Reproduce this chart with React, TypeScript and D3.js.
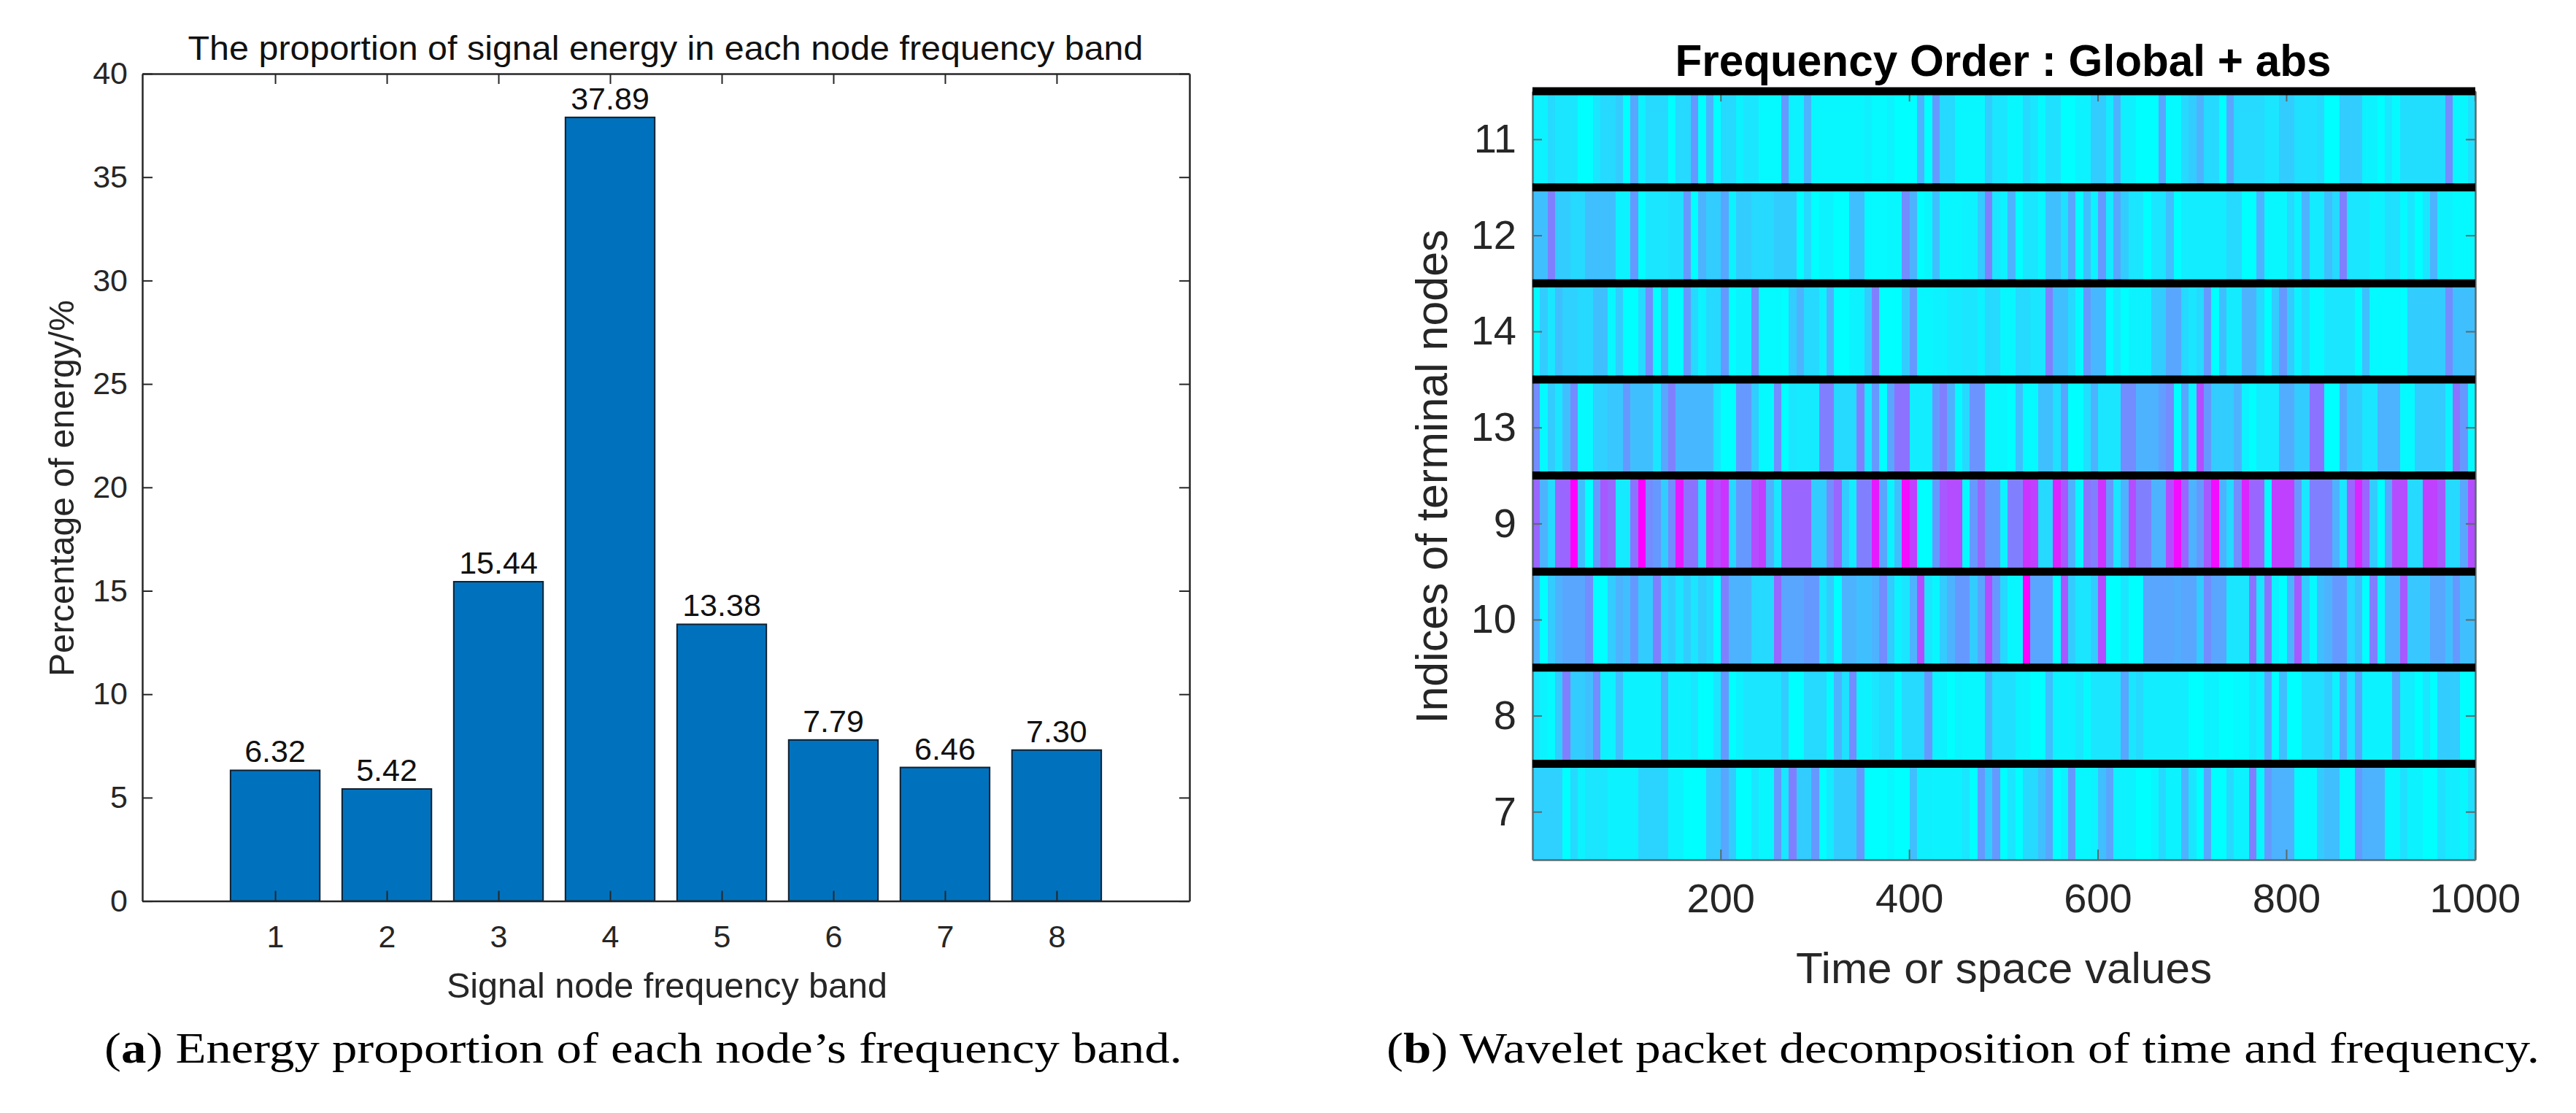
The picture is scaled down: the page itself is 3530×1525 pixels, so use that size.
// App.tsx - energy per frequency band (a) and wavelet packet time/frequency plot (b)
import { useEffect, useRef } from 'react';
import * as d3 from 'd3';

const bands = [1, 2, 3, 4, 5, 6, 7, 8];
const energy = [6.32, 5.42, 15.44, 37.89, 13.38, 7.79, 6.46, 7.3];
const energyTicks = [0, 5, 10, 15, 20, 25, 30, 35, 40];

const nodeLabels = ['11', '12', '14', '13', '9', '10', '8', '7'];
const timeTicks = [200, 400, 600, 800, 1000];
const samplesPerCell = 8;

// colour level of every cell, 0 = cyan, 100 = magenta
const node11 = [
  5, 5, 15, 10, 10, 10, 0, 0, 10, 15, 15, 20, 0, 35, 5, 15, 15, 15, 0, 15, 15, 40, 0, 30, 0,
  15, 15, 5, 10, 10, 2, 2, 2, 40, 5, 5, 30, 3, 3, 3, 3, 3, 3, 3, 6, 2, 2, 5, 0, 0,
  0, 30, 0, 40, 15, 15, 3, 3, 3, 3, 20, 10, 10, 3, 3, 15, 10, 2, 12, 12, 0, 0, 5, 5, 20,
  20, 8, 30, 6, 6, 0, 0, 0, 35, 2, 2, 15, 20, 30, 15, 15, 0, 35, 15, 15, 15, 15, 10, 10, 20,
  20, 12, 12, 12, 15, 0, 0, 20, 20, 20, 5, 5, 0, 10, 2, 13, 13, 13, 13, 13, 13, 45, 3, 3, 12,
];
const node12 = [
  25, 25, 50, 20, 20, 15, 15, 25, 25, 25, 25, 5, 5, 40, 0, 10, 10, 10, 12, 12, 40, 0, 30, 20, 20,
  35, 5, 20, 20, 15, 15, 15, 20, 20, 20, 0, 15, 0, 5, 5, 0, 0, 25, 25, 2, 2, 2, 3, 3, 45,
  30, 0, 3, 25, 3, 3, 3, 5, 5, 20, 50, 10, 5, 30, 0, 10, 10, 3, 25, 25, 12, 35, 0, 25, 5,
  40, 8, 35, 20, 10, 10, 0, 10, 10, 25, 0, 7, 7, 7, 7, 7, 7, 15, 15, 0, 0, 30, 3, 3, 3,
  15, 5, 30, 8, 8, 25, 15, 50, 10, 10, 10, 5, 5, 12, 12, 2, 10, 0, 10, 30, 5, 5, 2, 2, 2,
];
const node14 = [
  2, 20, 10, 25, 18, 18, 15, 15, 25, 25, 3, 20, 0, 0, 15, 45, 0, 30, 0, 0, 40, 15, 5, 15, 15,
  40, 0, 5, 5, 45, 2, 2, 2, 0, 20, 30, 15, 15, 5, 30, 0, 0, 5, 5, 20, 50, 0, 0, 0, 20,
  40, 3, 3, 5, 5, 8, 8, 10, 10, 5, 15, 15, 3, 3, 15, 15, 10, 10, 50, 25, 25, 15, 2, 40, 28,
  28, 0, 10, 0, 5, 5, 5, 20, 20, 35, 35, 15, 10, 15, 40, 0, 25, 8, 8, 30, 30, 15, 0, 20, 40,
  20, 5, 15, 2, 2, 10, 10, 10, 10, 0, 25, 2, 2, 2, 2, 0, 20, 20, 20, 20, 20, 45, 25, 25, 25,
];
const node13 = [
  45, 2, 20, 10, 25, 45, 2, 2, 18, 18, 22, 22, 40, 25, 25, 25, 10, 35, 50, 28, 28, 28, 28, 28, 10,
  0, 0, 40, 40, 20, 2, 2, 45, 0, 10, 8, 8, 8, 50, 50, 15, 15, 15, 50, 10, 40, 0, 35, 55, 55,
  7, 7, 7, 40, 50, 30, 2, 15, 42, 42, 3, 3, 3, 0, 25, 2, 2, 25, 25, 12, 35, 0, 0, 12, 30,
  10, 10, 10, 45, 45, 30, 30, 30, 38, 45, 0, 35, 5, 70, 40, 20, 20, 20, 30, 5, 0, 8, 8, 8, 32,
  32, 20, 20, 55, 55, 0, 0, 35, 20, 20, 10, 10, 30, 30, 30, 2, 2, 20, 20, 20, 20, 5, 55, 40, 2,
];
const node9 = [
  60, 30, 15, 60, 60, 100, 25, 0, 40, 65, 60, 8, 8, 55, 100, 45, 40, 20, 45, 90, 55, 55, 15, 80, 70,
  80, 15, 40, 40, 70, 75, 30, 10, 60, 60, 60, 60, 20, 20, 45, 60, 20, 8, 50, 50, 90, 35, 5, 25, 95,
  75, 0, 0, 40, 65, 70, 70, 2, 40, 60, 40, 40, 5, 50, 50, 80, 75, 15, 15, 85, 65, 30, 3, 55, 50,
  80, 40, 10, 30, 70, 50, 50, 30, 30, 70, 95, 60, 30, 40, 65, 95, 30, 15, 45, 85, 60, 60, 2, 75, 75,
  75, 40, 10, 50, 50, 50, 30, 10, 60, 85, 60, 20, 0, 35, 70, 70, 15, 15, 75, 75, 65, 15, 15, 35, 70,
];
const node10 = [
  30, 0, 20, 30, 35, 35, 35, 45, 0, 0, 20, 30, 25, 40, 20, 20, 50, 15, 20, 10, 20, 10, 20, 15, 0,
  50, 30, 30, 30, 15, 15, 15, 60, 35, 35, 35, 40, 40, 10, 20, 0, 30, 30, 25, 25, 30, 45, 20, 5, 10,
  30, 70, 10, 3, 20, 30, 40, 40, 20, 35, 70, 40, 15, 3, 3, 100, 35, 35, 35, 0, 65, 20, 10, 10, 20,
  70, 0, 0, 10, 0, 0, 35, 35, 35, 35, 32, 35, 35, 20, 45, 35, 35, 10, 10, 10, 55, 10, 55, 5, 0,
  30, 65, 20, 2, 25, 30, 40, 40, 15, 25, 0, 50, 2, 30, 30, 65, 22, 22, 22, 35, 35, 25, 40, 25, 25,
];
const node8 = [
  10, 5, 2, 20, 50, 20, 20, 25, 45, 5, 5, 25, 5, 5, 5, 5, 5, 30, 5, 5, 5, 10, 0, 0, 10,
  40, 0, 5, 10, 10, 10, 10, 10, 20, 0, 0, 15, 15, 15, 2, 30, 12, 45, 5, 5, 10, 15, 15, 2, 15,
  15, 15, 40, 5, 5, 0, 5, 3, 3, 3, 30, 12, 12, 12, 5, 5, 0, 0, 25, 5, 5, 5, 10, 2, 10,
  10, 10, 10, 35, 10, 15, 7, 7, 7, 7, 7, 7, 0, 0, 5, 5, 0, 0, 2, 2, 10, 5, 35, 0, 25,
  0, 0, 12, 12, 12, 20, 5, 35, 10, 35, 5, 5, 5, 5, 35, 7, 7, 0, 10, 0, 20, 20, 20, 0, 0,
];
const node7 = [
  18, 18, 18, 18, 0, 15, 5, 10, 10, 10, 5, 5, 5, 5, 17, 17, 17, 17, 5, 5, 0, 0, 0, 20, 20,
  35, 20, 0, 0, 10, 3, 3, 40, 10, 50, 20, 20, 40, 0, 8, 20, 20, 20, 40, 0, 0, 0, 3, 0, 0,
  25, 6, 6, 5, 5, 5, 5, 10, 0, 40, 20, 40, 0, 10, 0, 15, 15, 25, 35, 0, 5, 40, 3, 3, 5,
  25, 35, 5, 5, 5, 0, 0, 3, 15, 5, 5, 30, 10, 0, 35, 0, 0, 15, 5, 5, 50, 3, 40, 30, 30,
  30, 2, 2, 2, 20, 25, 25, 2, 2, 40, 30, 30, 30, 3, 3, 12, 5, 5, 0, 0, 12, 7, 7, 3, 12,
];
const nodeRows = [node11, node12, node14, node13, node9, node10, node8, node7];

const sans = '"Liberation Sans", Arial, sans-serif';
const serif = '"Liberation Serif", serif';
const axisInk = '#262626';

// box with inward ticks on all four sides, labels only on left and bottom
function drawBox(g: any, x: any, y: any, xTicks: number[], yTicks: any[], xFmt: any, yFmt: any, opts: any) {
  const [x0, x1] = x.range();
  const bottom = Math.max(...y.range());
  const top = Math.min(...y.range());
  const ax = (a: any, dx: number, dy: number, labels: boolean, pad: number, size: number) => {
    const s = g.append('g').attr('transform', `translate(${dx},${dy})`)
      .call(a.tickSizeInner(-size).tickSizeOuter(0).tickPadding(pad));
    s.select('.domain').attr('stroke', opts.stroke).attr('stroke-width', opts.width);
    s.selectAll('.tick line').attr('stroke', opts.stroke).attr('stroke-width', opts.tickWidth);
    s.selectAll('.tick text')
      .attr('fill', axisInk)
      .attr('font-family', sans)
      .attr('font-size', opts.font)
      .style('display', labels ? null : 'none');
    return s;
  };
  ax(d3.axisLeft(y).tickValues(yTicks).tickFormat(yFmt), x0, 0, true, opts.padY, opts.tickY);
  ax(d3.axisRight(y).tickValues(yTicks).tickFormat(yFmt), x1, 0, false, 0, opts.tickY);
  ax(d3.axisBottom(x).tickValues(xTicks).tickFormat(xFmt), 0, bottom, true, opts.padX, opts.tickX);
  ax(d3.axisTop(x).tickValues(xTicks).tickFormat(xFmt), 0, top, false, 0, opts.tickX);
}

function label(g: any, text: string, x: number, y: number, size: number, width: number, rotate = false) {
  return g.append('text')
    .attr('transform', rotate ? `translate(${x},${y}) rotate(-90)` : `translate(${x},${y})`)
    .attr('text-anchor', 'middle')
    .attr('dominant-baseline', 'central')
    .attr('font-family', sans)
    .attr('font-size', size)
    .attr('fill', axisInk)
    .attr('textLength', width)
    .attr('lengthAdjust', 'spacingAndGlyphs')
    .text(text);
}

function caption(g: any, tag: string, rest: string, x: number, y: number, width: number) {
  const t = g.append('text')
    .attr('x', x)
    .attr('y', y)
    .attr('font-family', serif)
    .attr('font-size', 60)
    .attr('fill', '#000')
    .attr('textLength', width)
    .attr('lengthAdjust', 'spacingAndGlyphs');
  t.append('tspan').text('(');
  t.append('tspan').attr('font-weight', 'bold').text(tag);
  t.append('tspan').text(rest);
}

export default function App() {
  const svgRef = useRef<SVGSVGElement>(null);

  useEffect(() => {
    if (!svgRef.current) return;
    const svg = d3.select(svgRef.current);
    svg.selectAll('*').remove();

    // (a) bars
    const a = svg.append('g');
    const xA = d3.scaleLinear().domain([-0.19, 9.19]).range([195, 1630]);
    const yA = d3.scaleLinear().domain([0, 40]).range([1234.6, 101]);
    const barW = xA(0.8) - xA(0);

    a.selectAll('rect.bar')
      .data(energy)
      .join('rect')
      .attr('class', 'bar')
      .attr('x', (_d, i) => xA(bands[i]) - barW / 2)
      .attr('y', d => yA(d))
      .attr('width', barW)
      .attr('height', d => yA(0) - yA(d))
      .attr('fill', '#0072BD')
      .attr('stroke', '#102030')
      .attr('stroke-width', 2);

    a.selectAll('text.value')
      .data(energy)
      .join('text')
      .attr('class', 'value')
      .attr('x', (_d, i) => xA(bands[i]))
      .attr('y', d => yA(d) - 11)
      .attr('text-anchor', 'middle')
      .attr('font-family', sans)
      .attr('font-size', 43)
      .attr('fill', '#111')
      .text(d => d.toFixed(2));

    drawBox(a, xA, yA, bands, energyTicks, d3.format('d'), d3.format('d'), {
      stroke: axisInk, width: 2.5, tickWidth: 2, font: 43, padY: 20, padX: 33, tickX: 14, tickY: 14,
    });

    label(a, 'The proportion of signal energy in each node frequency band', 912, 66, 46, 1309).attr('fill', '#111');
    label(a, 'Signal node frequency band', 914, 1350, 48, 604);
    label(a, 'Percentage of energy/%', 84, 669, 48, 516, true);
    caption(a, 'a', ') Energy proportion of each node\u2019s frequency band.', 143, 1456, 1477);

    // (b) time/frequency stripes
    const b = svg.append('g');
    const xB = d3.scaleLinear().domain([0.5, 1000.5]).range([2100, 3392]);
    const yB = d3.scaleLinear().domain([-0.5, 7.5]).range([125, 1178]);
    const cool = d3.scaleLinear<string>().domain([0, 100]).range(['#00ffff', '#ff00ff']);

    nodeRows.forEach((row, r) => {
      b.append('g')
        .attr('shape-rendering', 'crispEdges')
        .selectAll('rect')
        .data(row)
        .join('rect')
        .attr('x', (_d, i) => xB(i * samplesPerCell + 0.5))
        .attr('y', yB(r - 0.5))
        .attr('width', xB(samplesPerCell) - xB(0) + 0.5)
        .attr('height', yB(r + 0.5) - yB(r - 0.5))
        .attr('fill', d => cool(d));
    });

    drawBox(b, xB, yB, timeTicks, nodeLabels.map((_d, i) => i), d3.format('d'), (_d: any, i: number) => nodeLabels[i], {
      stroke: '#5a6a6e', width: 2.5, tickWidth: 2, font: 56, padY: 22, padX: 32, tickX: 14, tickY: 13,
    });

    // separators between terminal nodes, on top of the frame
    b.selectAll('line.sep')
      .data(nodeLabels)
      .join('line')
      .attr('class', 'sep')
      .attr('x1', xB(0.5))
      .attr('x2', xB(1000.5))
      .attr('y1', (_d, i) => yB(i - 0.5))
      .attr('y2', (_d, i) => yB(i - 0.5))
      .attr('stroke', '#000')
      .attr('stroke-width', 11);

    label(b, 'Frequency Order : Global + abs', 2745, 82, 62, 899)
      .attr('font-weight', 'bold')
      .attr('fill', '#000');
    label(b, 'Time or space values', 2746, 1326, 60, 570);
    label(b, 'Indices of terminal nodes', 1962, 653, 61, 677, true);
    caption(b, 'b', ') Wavelet packet decomposition of time and frequency.', 1900, 1456, 1580);
  }, []);

  return (
    <svg
      ref={svgRef}
      width={3530}
      height={1525}
      style={{ position: 'absolute', left: 0, top: 0, background: '#fff' }}
    />
  );
}
